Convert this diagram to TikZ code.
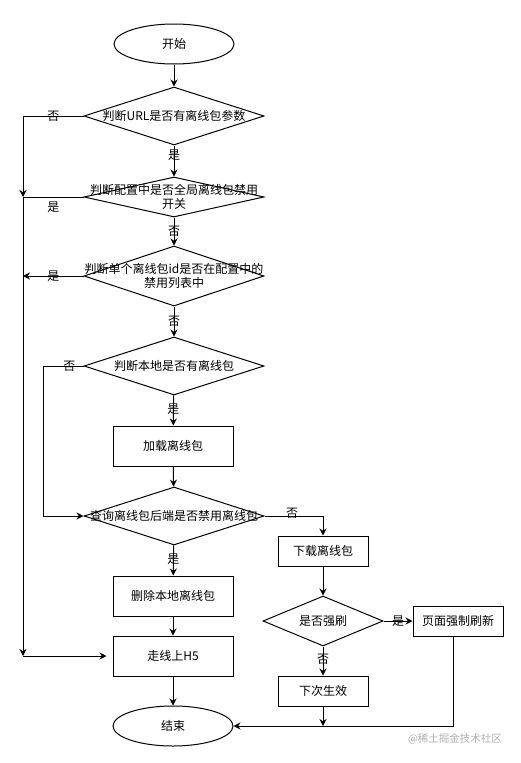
\documentclass[tikz,border=0pt]{standalone}
\usepackage{fontspec}
\setmainfont{Noto Sans CJK SC}
\usetikzlibrary{arrows.meta,shapes.geometric}
\definecolor{ink}{RGB}{0,0,0}
\definecolor{mark}{RGB}{175,175,175}
\tikzset{
  >={Stealth[length=7pt,width=7pt]},
  term/.style={ellipse,draw=ink,minimum width=120pt,minimum height=40pt,inner sep=0pt,
    font=\fontsize{12}{14}\selectfont},
  proc/.style={rectangle,draw=ink,minimum width=#1,minimum height=40pt,inner sep=0pt,
    font=\fontsize{12}{14}\selectfont},
  proc/.default=120pt,
  small proc/.style={proc=90pt,minimum height=30pt},
  decision/.style={diamond,draw=ink,minimum width=180pt,minimum height=#1,inner sep=0pt},
  decision/.default=58pt,
  txt/.style={align=center,inner sep=0pt,font=\fontsize{12}{14}\selectfont},
  lbl/.style={inner sep=0pt,font=\fontsize{12}{14}\selectfont},
  flow/.style={->,draw=ink},
  flow/.default=ink,
}

\begin{document}
\begin{tikzpicture}[x=1pt,y=-1pt,line width=1pt]
  \useasboundingbox (0,0) rectangle (521,763);
  % main column
  \node[term] (start) at (174,44) {开始};
  \node[decision,label={[txt]center:判断URL是否有离线包参数}] (durl) at (174,116) {};
  \node[decision=40pt,label={[txt]center:{判断配置中是否全局离线包禁用\\开关}}] (dcfg) at (174,197) {};
  \node[decision=60pt,label={[txt]center:{判断单个离线包id是否在配置中的\\禁用列表中}}] (dlist) at (174,276) {};
  \node[decision,label={[txt]center:判断本地是否有离线包}] (dlocal) at (174,366) {};
  \node[proc] (load) at (173,446) {加载离线包};
  \node[decision,label={[txt]center:查询离线包后端是否禁用离线包}] (dquery) at (174,516) {};
  \node[proc] (del) at (173,596) {删除本地离线包};
  \node[proc] (h5) at (173,656) {走线上H5};
  \node[term] (end) at (173,726) {结束};
  % right column
  \node[small proc] (dl) at (323,551) {下载离线包};
  \node[decision=50pt,minimum width=120pt,label={[txt]center:是否强刷}] (dforce) at (323,621) {};
  \node[small proc] (reload) at (458,621) {页面强制刷新};
  \node[small proc] (next) at (323,691) {下次生效};
  % bend points
  \coordinate (j1) at (23,197);
  \coordinate (j2) at (23,276);
  \coordinate (j3) at (23,656);
  \coordinate (k1) at (43,366);
  \coordinate (j4) at (323,726);

  % straight down
  \draw[flow] (start) -- (durl);
  \draw[flow] (durl) -- node[lbl,pos=0.3] (l1) {是} (dcfg);
  \draw[flow] (dcfg) -- node[lbl,pos=0.5] (l2) {否} (dlist);
  \draw[flow] (dlist) -- node[lbl,pos=0.5] (l3) {否} (dlocal);
  \draw[flow] (dlocal) -- node[lbl,pos=0.45] (l4) {是} (load);
  \draw[flow] (load) -- (dquery);
  \draw[flow] (dquery) -- node[lbl,pos=0.45] (l5) {是} (del);
  \draw[flow] (del) -- (h5);
  \draw[flow] (h5) -- (end);
  % left trunk
  \draw[flow] (durl.west) -- node[lbl] (l6) {否} (durl.west -| j1) -- (j1);
  \draw (dcfg.west) -- node[lbl,below=4pt] (l7) {是} (j1);
  \draw[flow] (dlist.west) -- node[lbl] (l8) {是} (j2);
  \draw[flow] (j1) -- (j3);
  \draw[flow] (j3) -- ([xshift=-6pt]h5.west);
  \draw[flow] (dlocal.west) -- node[lbl,pos=0.35] (l9) {否} (k1) |- (dquery.west);
  % right branch
  \draw[flow] (dquery.east) -| node[lbl,pos=0.5,above=-3pt,xshift=-31pt] (l10) {否} (dl.north);
  \draw[flow] (dl) -- (dforce);
  \draw[flow] (dforce) -- node[lbl] (l11) {是} (reload);
  \draw[flow] (dforce) -- node[lbl,pos=0.45] (l12) {否} (next);
  \draw[flow] (next) -- (j4);
  \draw[flow] ([xshift=-5pt]reload.south) |- (end.east);

  \node[text=mark,font=\fontsize{10.5}{12}\selectfont] (wm) at (455,739) {@稀土掘金技术社区};
\end{tikzpicture}
\end{document}
